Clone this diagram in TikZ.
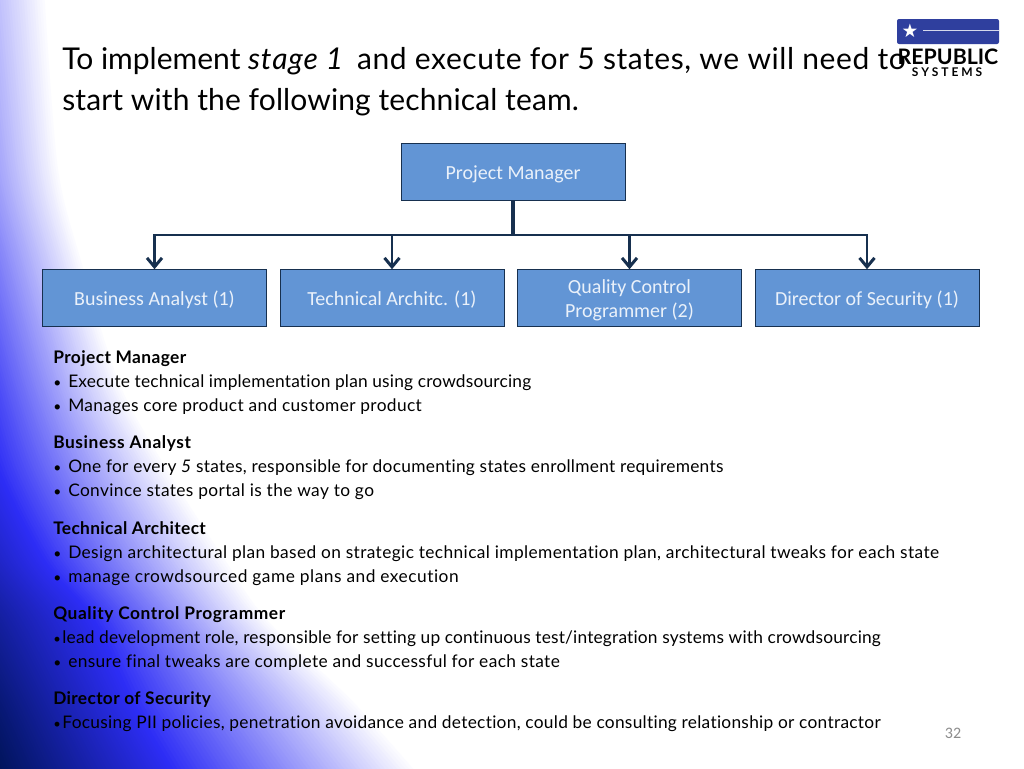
\documentclass[tikz,border=0pt]{standalone}
\usepackage{fontspec}
\setmainfont{Lato}[Ligatures=CommonOff]
\newfontfamily\boxfont{Carlito}[Ligatures=CommonOff]
\usetikzlibrary{positioning,arrows.meta}
\definecolor{boxfill}{HTML}{6295D5}
\definecolor{boxline}{HTML}{17304F}
\definecolor{boxtext}{HTML}{EAF1FA}
\definecolor{swooshdark}{HTML}{00145A}
\definecolor{swooshblue}{HTML}{2D2DF5}
\definecolor{logoblue}{HTML}{2F3F9E}
\newcommand{\unit}{pt*0.75}
\newcommand{\tick}{\makebox[11.25pt][l]{\scalebox{.8}{•}}}
\newcommand{\tightick}{\makebox[6.9pt][l]{\scalebox{.75}{•}}}
\tikzset{
  declare function={bandx(\t,\w,\b,\d)=(\t<0.5)*(\w+(\b-\w)*2*\t)+(\t>=0.5)*(\b+(\d-\b)*(2*\t-1));},
  rolebox/.style={draw=boxline, fill=boxfill, text=boxtext, minimum width=224\unit, minimum height=57\unit, inner sep=0pt, text height=13pt, text depth=2pt, font=\boxfont\fontsize{15}{18}\selectfont},
  roletwo/.style={text=boxtext, align=center, inner sep=0pt, font=\boxfont\fontsize{15}{18}\selectfont},
  link/.style={draw=boxline, line width=2.6\unit},
  arrowlink/.style={link, -{Straight Barb[length=9\unit, width=15\unit, line width=3\unit]}},
  bodytext/.style={anchor=base west, inner sep=0pt, font=\fontsize{13}{16}\selectfont\addfontfeature{LetterSpace=#1}},
  bodytext/.default=1.6,
  headtext/.style={anchor=base west, inner sep=0pt, font=\fontsize{13}{16}\selectfont\bfseries\addfontfeature{LetterSpace=#1}},
  headtext/.default=2,
  titletext/.style={anchor=base west, inner sep=0pt, font=\fontsize{22.5}{28}\selectfont\addfontfeature{LetterSpace=#1}},
  titletext/.default=0,
}
\begin{document}
\begin{tikzpicture}[x=0.75pt, y=-0.75pt]
  \useasboundingbox (0,0) rectangle (1024,768);
  \fill[white] (0,0) rectangle (1024,768);

  % left colour band
  \foreach \s in {0,1,...,120} {
    \pgfmathsetmacro{\t}{\s/120}
    \ifnum\s<61
      \pgfmathsetmacro{\mixb}{100*2*\t}
      \colorlet{bandcol}{swooshblue!\mixb!white}
    \else
      \pgfmathsetmacro{\mixb}{100*(2*\t-1)}
      \colorlet{bandcol}{swooshdark!\mixb!swooshblue}
    \fi
    \fill[bandcol] (-400,-5) -- plot[smooth] coordinates {
      ({bandx(\t,47,-110,-300)},-5) ({bandx(\t,60,-80,-260)},167)
      ({bandx(\t,83,-55,-220)},260) ({bandx(\t,122,-23,-180)},384)
      ({bandx(\t,170,0,-150)},470) ({bandx(\t,228,45,-110)},560)
      ({bandx(\t,270,95,-75)},620) ({bandx(\t,355,133,-30)},700)
      ({bandx(\t,420,175,0)},772)} -- (-400,772) -- cycle;
  }

  % title
  \node[titletext] (titlea) at (62,69) {To implement \textit{\addfontfeature{LetterSpace=3}stage 1}\hspace{4pt} \addfontfeature{LetterSpace=1.9}and execute for 5 states, we will need to};
  \node[titletext=0.4] (titleb) at (62,110) {start with the following technical team.};

  % logo
  \fill[logoblue, rounded corners=2\unit] (897,19) rectangle (999,44);
  \node[text=white, inner sep=0pt, font=\fontsize{14}{14}\selectfont] (logostar) at (910,31) {\fontspec{DejaVu Sans}★};
  \draw[white!80!logoblue] (923,30) -- (999,30);
  \node[anchor=base, inner sep=0pt, font=\fontsize{16}{16}\selectfont\bfseries] (logoa) at (948,64) {REPUBLIC};
  \node[anchor=base, inner sep=0pt, font=\fontsize{9}{9}\selectfont\bfseries] (logob) at (947,76) {S Y S T E M S};

  % boxes
  \node[rolebox] (pm) at (513,172) {Project Manager};
  \node[rolebox] (ba) at (154.5,298) {Business Analyst (1)};
  \node[rolebox] (ta) at (392,298) {Technical Architc. (1)};
  \node[rolebox] (qc) at (629.5,298) {};
  \node[roletwo, yshift=-1.5pt] (qctext) at (qc) {Quality Control\\Programmer (2)};
  \node[rolebox] (ds) at (867,298) {Director of Security (1)};

  \coordinate (bus) at (513,235);
  \draw[link, line width=3.4\unit] (pm.south) -- (bus);
  \draw[arrowlink] (bus) -| (ba.north);
  \draw[arrowlink] (bus) -| (ta.north);
  \draw[arrowlink] (bus) -| (qc.north);
  \draw[arrowlink] (bus) -| (ds.north);

  % role descriptions
  \node[headtext=2.4] (pmhead) at (53,363) {Project Manager};
  \node[bodytext=1.1] (pma) at (53,387) {\tick Execute technical implementation plan using crowdsourcing};
  \node[bodytext=2.0] (pmb) at (53,411) {\tick Manages core product and customer product};
  \node[headtext=3.4] (bahead) at (53,448) {Business Analyst};
  \node[bodytext] (baa) at (53,472) {\tick One for every \textit{5} states, responsible for documenting states enrollment requirements};
  \node[bodytext=2.2] (bab) at (53,496) {\tick Convince states portal is the way to go};
  \node[headtext] (tahead) at (53,534) {Technical Architect};
  \node[bodytext=2.2] (taa) at (53,558) {\tick Design architectural plan based on strategic technical implementation plan, architectural tweaks for each state};
  \node[bodytext=2.9] (tab) at (53,582) {\tick manage crowdsourced game plans and execution};
  \node[headtext=3.3] (qchead) at (53,619) {Quality Control Programmer};
  \node[bodytext=1.05] (qca) at (53,643) {\tightick lead development role, responsible for setting up continuous test/integration systems with crowdsourcing};
  \node[bodytext=2.15] (qcb) at (53,667) {\tick ensure final tweaks are complete and successful for each state};
  \node[headtext] (dshead) at (53,704) {Director of Security};
  \node[bodytext] (dsa) at (53,728) {\tightick Focusing PII policies, penetration avoidance and detection, could be consulting relationship or contractor};

  \node[inner sep=0pt, text=black!45, font=\boxfont\fontsize{12}{12}\selectfont] (pagenum) at (953,733) {32};
\end{tikzpicture}
\end{document}
